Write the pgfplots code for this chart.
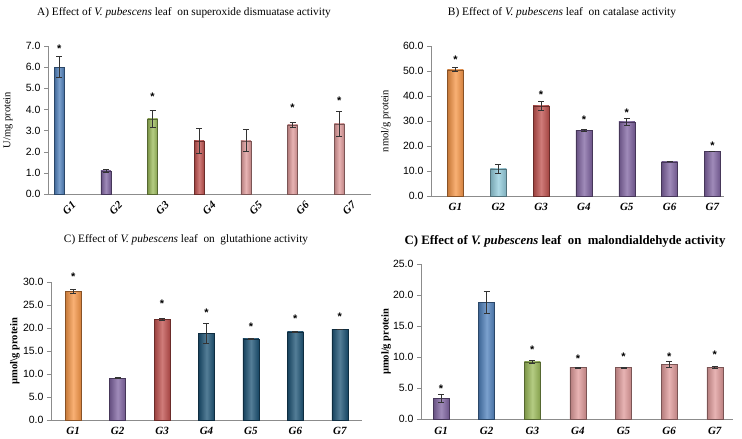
\documentclass[border=0pt]{standalone}
\usepackage{fontspec}
\setmainfont{Liberation Serif}
\newfontfamily\arial{Liberation Sans}
\usepackage{pgfplots}
\pgfplotsset{compat=1.18}

% Excel 2007 style palette
\definecolor{cblue}{HTML}{4F81BD}
\definecolor{cpurple}{HTML}{8064A2}
\definecolor{cgreen}{HTML}{9BBB59}
\definecolor{cred}{HTML}{C0504D}
\definecolor{cpink}{HTML}{E09A9A}
\definecolor{corange}{HTML}{F79646}
\definecolor{ccyan}{HTML}{93CDDD}
\definecolor{cteal}{HTML}{1B5274}

\pgfplotsset{
  panel/.style={
    scale only axis, anchor=south west, clip=false,
    ymin=0,
    axis x line=bottom, axis y line=left,
    axis line style={-, black!45},
    xtick={0,...,6}, xticklabels={G1,G2,G3,G4,G5,G6,G7},
    xtick style={draw=none},
    ytick style={black!45},
    tick align=outside, major tick length=4pt,
    yticklabel style={font=\arial\fontsize{10.5}{12}\selectfont, /pgf/number format/.cd, fixed, fixed zerofill, precision=1, assume math mode=true},
    xticklabel style={font=\bfseries\itshape\fontsize{11}{13}\selectfont},
    ylabel style={anchor=center, font=\fontsize{10.5}{12}\selectfont},
  },
  cyl/.style={
    ybar, bar shift=0pt,
    draw=#1!55!black, line width=0.4pt,
    left color=#1!80!black, right color=#1!85!black, middle color=#1!75!white,
    error bars/.cd, y dir=both, y explicit,
    error bar style={black!80, line width=0.6pt},
    error mark options={black!80, line width=0.6pt, mark size=3pt, rotate=90},
  },
  star/.style={only marks, mark=text, text mark={\arial\bfseries\fontsize{11}{12}\selectfont *}},
}

\begin{document}
\begin{tikzpicture}
\useasboundingbox (0pt,0pt) rectangle (742pt,439pt);

% ---------- A) superoxide dismutase ----------
\node[font=\fontsize{11.3}{13}\selectfont] at (184pt,426pt) {A) Effect of \textit{V. pubescens} leaf\ \ on superoxide dismuatase activity};
\begin{axis}[panel, at={(48pt,245pt)}, width=323pt, height=148pt,
  xmin=-0.24, xmax=6.68, ymax=7, ytick={0,1,...,7}, bar width=10pt,
  xticklabel style={rotate=45, anchor=center, yshift=-14pt},
  ylabel={U/mg protein}, ylabel style={at={(axis description cs:-0.124,0.5)}}]
\addplot[cyl=cblue]   coordinates {(0,6.00) +- (0,0.50)};
\addplot[cyl=cpurple] coordinates {(1,1.10) +- (0,0.08)};
\addplot[cyl=cgreen]  coordinates {(2,3.56) +- (0,0.41)};
\addplot[cyl=cred]    coordinates {(3,2.52) +- (0,0.58)};
\addplot[cyl=cpink]   coordinates {(4,2.52) +- (0,0.52)};
\addplot[cyl=cpink]   coordinates {(5,3.27) +- (0,0.13)};
\addplot[cyl=cpink]   coordinates {(6,3.32) +- (0,0.60)};
\addplot[star] coordinates {(0,6.85) (2,4.58) (5,4.06) (6,4.42)};
\end{axis}

% ---------- B) catalase ----------
\node[font=\fontsize{11.4}{13}\selectfont] at (562pt,426pt) {B) Effect of \textit{V. pubescens} leaf\ \ on catalase activity};
\begin{axis}[panel, at={(431pt,243pt)}, width=293pt, height=150pt,
  xmin=-0.57, xmax=6.27, ymax=60, ytick={0,10,...,60}, bar width=16pt,
  ylabel={nmol/g protein}, ylabel style={at={(axis description cs:-0.154,0.5)}}]
\addplot[cyl=corange] coordinates {(0,50.5) +- (0,0.8)};
\addplot[cyl=ccyan]   coordinates {(1,10.9) +- (0,1.8)};
\addplot[cyl=cred]    coordinates {(2,36.1) +- (0,1.8)};
\addplot[cyl=cpurple] coordinates {(3,26.3) +- (0,0.3)};
\addplot[cyl=cpurple] coordinates {(4,29.7) +- (0,1.3)};
\addplot[cyl=cpurple] coordinates {(5,13.7) +- (0,0.0)};
\addplot[cyl=cpurple] coordinates {(6,17.8) +- (0,0.0)};
\addplot[star] coordinates {(0,54.4) (2,40.4) (3,30.6) (4,33.2) (6,20.2)};
\end{axis}

% ---------- C) glutathione ----------
\node[font=\fontsize{11.3}{13}\selectfont] at (186pt,199pt) {C) Effect of \textit{V. pubescens} leaf\ \ on\ \ glutathione\ activity};
\begin{axis}[panel, at={(51pt,19pt)}, width=311pt, height=137.7pt,
  xmin=-0.5, xmax=6.5, ymax=30, ytick={0,5,...,30}, bar width=16pt,
  ylabel={\bfseries µmol\textbackslash g protein}, ylabel style={at={(axis description cs:-0.116,0.5)}}]
\addplot[cyl=corange] coordinates {(0,28.0) +- (0,0.4)};
\addplot[cyl=cpurple] coordinates {(1,9.1) +- (0,0.1)};
\addplot[cyl=cred]    coordinates {(2,21.9) +- (0,0.2)};
\addplot[cyl=cteal]   coordinates {(3,18.9) +- (0,2.2)};
\addplot[cyl=cteal]   coordinates {(4,17.7) +- (0,0.1)};
\addplot[cyl=cteal]   coordinates {(5,19.2) +- (0,0.1)};
\addplot[cyl=cteal]   coordinates {(6,19.7) +- (0,0.0)};
\addplot[star] coordinates {(0,31.2) (2,25.4) (3,23.4) (4,20.4) (5,22.0) (6,22.6)};
\end{axis}

% ---------- D) malondialdehyde ----------
\node[font=\bfseries\fontsize{12.8}{15}\selectfont] at (565pt,198pt) {C) Effect of \textit{V. pubescens} leaf\ \ on\ \ malondialdehyde activity};
\begin{axis}[panel, at={(421pt,19.7pt)}, width=312pt, height=155pt,
  xmin=-0.44, xmax=6.4, ymax=25, ytick={0,5,...,25}, bar width=16pt,
  ylabel={\bfseries µmol/g protein}, ylabel style={at={(axis description cs:-0.112,0.5)}}]
\addplot[cyl=cpurple] coordinates {(0,3.4) +- (0,0.65)};
\addplot[cyl=cblue]   coordinates {(1,18.9) +- (0,1.75)};
\addplot[cyl=cgreen]  coordinates {(2,9.25) +- (0,0.2)};
\addplot[cyl=cpink]   coordinates {(3,8.35) +- (0,0.1)};
\addplot[cyl=cpink]   coordinates {(4,8.35) +- (0,0.1)};
\addplot[cyl=cpink]   coordinates {(5,8.85) +- (0,0.5)};
\addplot[cyl=cpink]   coordinates {(6,8.35) +- (0,0.15)};
\addplot[star] coordinates {(0,5.0) (2,11.2) (3,9.7) (4,10.1) (5,10.1) (6,10.45)};
\end{axis}
\end{tikzpicture}
\end{document}
